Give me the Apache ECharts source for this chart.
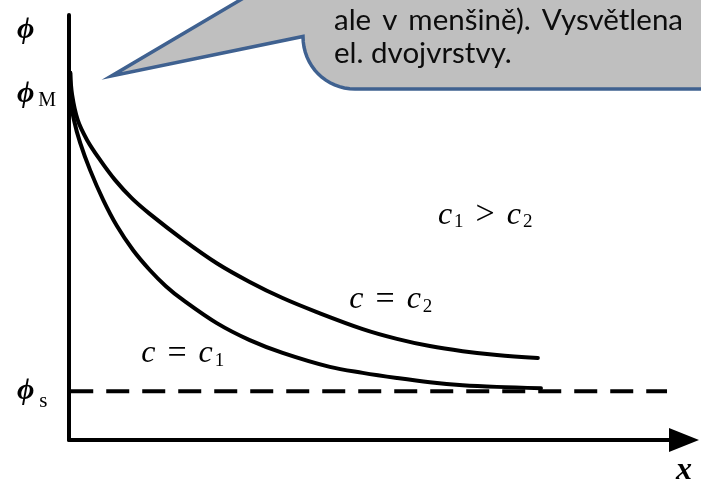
<!DOCTYPE html>
<html>
<head>
<meta charset="utf-8">
<script src="https://cdn.jsdelivr.net/npm/echarts@6/dist/echarts.min.js"></script>
<style>
  html, body { margin: 0; padding: 0; background: #ffffff; }
  #chart { width: 701px; height: 483px; }
</style>
</head>
<body>
<div id="chart"></div>
<script>
// Potential profile in the diffuse double layer, phi(x), for two concentrations.
// x: distance from the electrode (arbitrary units 0..100), phi: potential (0..100).

// c = c2 (lower concentration, slower decay)
const xC2   = [0.2, 0.5, 1.4, 2.9, 5.0, 7.4, 10.1, 13.0, 18.4, 23.8, 29.1, 34.4, 39.9, 47.3, 52.8, 58.1, 63.4, 68.9, 75.5];
const phiC2 = [86.4, 81.2, 75.3, 70.6, 65.9, 61.2, 56.9, 53.2, 47.1, 41.6, 37.2, 33.4, 30.1, 26.1, 23.8, 22.1, 20.9, 20.0, 19.3];

// c = c1 (higher concentration, faster decay)
const xC1   = [0.2, 0.3, 0.8, 1.8, 3.4, 5.5, 7.7, 10.3, 13.0, 15.6, 18.4, 23.8, 29.1, 34.4, 42.0, 47.3, 52.8, 58.1, 63.4, 68.9, 76.0];
const phiC1 = [86.4, 80.0, 75.3, 69.9, 63.5, 56.5, 50.4, 44.7, 40.0, 36.2, 32.9, 27.5, 23.5, 20.5, 17.2, 15.8, 14.6, 13.6, 12.9, 12.5, 12.2];

// bulk solution potential phi_s (dashed reference level)
const phiS      = 11.5;
const phiSRange = [0.2, 96.3];

// potential axis labels
const yTickValues = [96.5, 81.4, 11.5];
const yTickLabels = ['{p|\u03D5}', '{p|\u03D5}{sm|M}', '{p|\u03D5}{ss|s}'];

// curve annotations
const noteText = ['{c|c}{sub|1}{op|>}{c|c}{sub|2}', '{c|c}{op|=}{c|c}{sub|2}', '{c|c}{op|=}{c|c}{sub|1}'];
const noteX    = [67.1, 51.9, 18.4];
const noteY    = [52.8, 32.9, 20.1];

// callout words
const calloutLine1 = ['ale', 'v', 'menšině).', 'Vysvětlena'];
const calloutLine2 = ['el.', 'dvojvrstvy.'];

const serif = "'Liberation Serif', 'DejaVu Serif', serif";
const sans = "Lato, 'Noto Sans', sans-serif";
const zip = (xs, ys) => xs.map((x, i) => [x, ys[i]]);

const mathRich = {
  c:   { fontFamily: serif, fontStyle: 'italic', fontSize: 32, lineHeight: 36, color: '#000' },
  op:  { fontFamily: serif, fontSize: 34, lineHeight: 36, color: '#000', padding: [0, 12, 0, 12] },
  sub: { fontFamily: serif, fontSize: 19, lineHeight: 20, color: '#000', padding: [14, 0, 0, 2] }
};

// callout outline: pointer + box with a rounded lower-left corner
function cubic(p0, p1, p2, p3, n) {
  const pts = [];
  for (let i = 1; i <= n; i++) {
    const t = i / n, u = 1 - t;
    pts.push([
      u * u * u * p0[0] + 3 * u * u * t * p1[0] + 3 * u * t * t * p2[0] + t * t * t * p3[0],
      u * u * u * p0[1] + 3 * u * u * t * p1[1] + 3 * u * t * t * p2[1] + t * t * t * p3[1]
    ]);
  }
  return pts;
}
const calloutPts = [[302, -36.5], [111.5, 76], [303, 36.5]]
  .concat(cubic([303, 36.5], [303, 66], [326, 89], [355, 89], 16))
  .concat([[730, 89], [730, -80], [302, -80]]);

// text block inside the callout: last line set naturally, first line justified
const textLeft = 334, textRight = 683, line2Width = 178;
const measureCtx = document.createElement('canvas').getContext('2d');
function textWidth(s, size) {
  measureCtx.font = size + 'px ' + sans;
  return measureCtx.measureText(s).width;
}
const fontSize = Math.round(100 * line2Width / textWidth(calloutLine2.join(' '), 100) * 10) / 10;
const spaceW = textWidth(' ', fontSize);

const calloutGraphics = [
  {
    type: 'polygon',
    z: 10,
    shape: { points: calloutPts },
    style: { fill: '#bfbfbf', stroke: '#3f6190', lineWidth: 3.5, lineJoin: 'miter' }
  }
];
function pushWord(text, x, y) {
  calloutGraphics.push({
    type: 'text', z: 11, x: x, y: y,
    style: { text: text, align: 'left', verticalAlign: 'middle', fontFamily: sans, fontSize: fontSize, fill: '#0d0d0d' }
  });
}
(function layoutLine1() {
  const widths = calloutLine1.map(w => textWidth(w, fontSize));
  const total = widths.reduce((a, b) => a + b, 0);
  const gap = (textRight - textLeft - total) / (calloutLine1.length - 1);
  let x = textLeft;
  calloutLine1.forEach((w, i) => { pushWord(w, x, 20); x += widths[i] + gap; });
})();
(function layoutLine2() {
  let x = textLeft;
  calloutLine2.forEach(w => { pushWord(w, x, 53); x += textWidth(w, fontSize) + spaceW; });
})();

const chart = echarts.init(document.getElementById('chart'), null, { renderer: 'canvas' });
chart.setOption({
  animation: false,
  backgroundColor: '#ffffff',
  grid: { left: 69, right: 11, top: 15, bottom: 43, containLabel: false, outerBoundsMode: 'none' },
  xAxis: {
    type: 'value', min: 0, max: 100,
    splitLine: { show: false },
    axisTick: { show: false },
    axisLabel: { show: false },
    axisLine: {
      show: true,
      lineStyle: { color: '#000', width: 4 },
      symbol: ['none', 'triangle'],
      symbolSize: [24, 30],
      symbolOffset: [0, -6]
    },
    name: '{v|x}',
    nameLocation: 'end',
    nameGap: -6,
    nameTextStyle: {
      align: 'center', verticalAlign: 'middle',
      rich: {
        v: { fontFamily: serif, fontStyle: 'italic', fontWeight: 'bold', fontSize: 32, lineHeight: 34,
             color: '#000', padding: [62, 0, 0, 0] }
      }
    }
  },
  yAxis: {
    type: 'value', min: 0, max: 100,
    splitLine: { show: false },
    axisTick: { show: false },
    axisLine: { show: true, lineStyle: { color: '#000', width: 4 } },
    axisLabel: {
      show: true,
      customValues: yTickValues,
      formatter: v => yTickLabels[yTickValues.indexOf(v)],
      align: 'left',
      margin: 52,
      rich: {
        p:  { fontFamily: serif, fontStyle: 'italic', fontWeight: 'bold', fontSize: 30, lineHeight: 34, color: '#000' },
        sm: { fontFamily: serif, fontSize: 20, lineHeight: 20, color: '#000', padding: [14, 0, 0, 4] },
        ss: { fontFamily: serif, fontSize: 21, lineHeight: 20, color: '#000', padding: [20, 0, 0, 5] }
      }
    }
  },
  series: [
    {
      name: 'c = c2', type: 'line', data: zip(xC2, phiC2),
      symbol: 'none', smooth: 0.35,
      lineStyle: { color: '#000', width: 4, cap: 'round' }, z: 3
    },
    {
      name: 'c = c1', type: 'line', data: zip(xC1, phiC1),
      symbol: 'none', smooth: 0.35,
      lineStyle: { color: '#000', width: 4, cap: 'round' }, z: 3
    },
    {
      name: 'phi_s', type: 'line', data: [[phiSRange[0], phiS], [phiSRange[1], phiS]],
      symbol: 'none',
      lineStyle: { color: '#000', width: 4, type: [23, 13] }, z: 2
    },
    {
      name: 'notes', type: 'scatter', data: zip(noteX, noteY),
      symbolSize: 1, itemStyle: { color: 'rgba(255,255,255,0)' }, silent: true,
      label: {
        show: true, position: [0, 0], align: 'center', verticalAlign: 'middle',
        color: '#000', textBorderWidth: 0, opacity: 1,
        formatter: p => noteText[p.dataIndex],
        rich: mathRich
      }
    }
  ],
  graphic: calloutGraphics
});
</script>
</body>
</html>
